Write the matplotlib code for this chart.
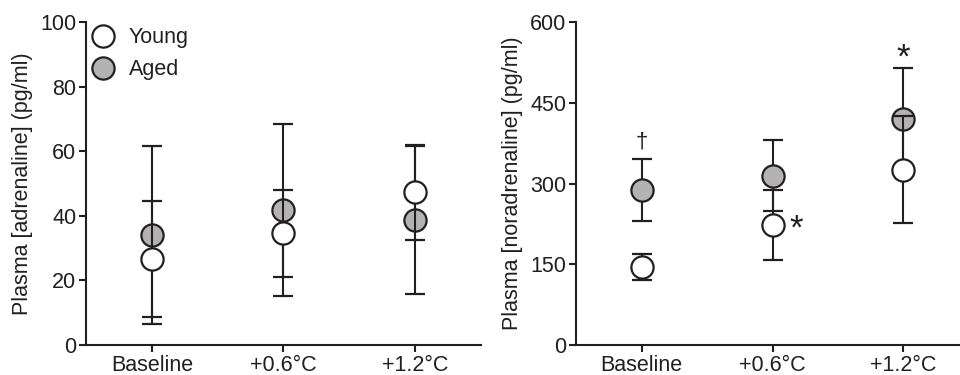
import matplotlib
matplotlib.use("Agg")
import matplotlib.pyplot as plt
from matplotlib.lines import Line2D
import numpy as np

plt.rcParams['font.family'] = ['Liberation Sans', 'DejaVu Sans']

conditions = ['Baseline', '+0.6°C', '+1.2°C']

# adrenaline (pg/ml)
adr_young = [26.7, 34.6, 47.3]
adr_young_err = [18.0, 13.4, 14.7]
adr_aged = [34.0, 41.8, 38.7]
adr_aged_err = [27.5, 26.7, 23.0]

# noradrenaline (pg/ml)
nor_young = [145, 223, 326]
nor_young_err = [24, 65, 100]
nor_aged = [288, 314, 420]
nor_aged_err = [58, 66, 94]

ink = '#231f20'
grey = '#b3b3b3'
fs = 15.5

fig = plt.figure(figsize=(9.6, 3.75), dpi=100)
ax1 = fig.add_axes([86/960, 30/375, 395/960, 323/375])
ax2 = fig.add_axes([576/960, 30/375, 393/960, 323/375])

x = np.arange(len(conditions))


def draw(ax, young, young_err, aged, aged_err):
    ax.errorbar(x, aged, yerr=aged_err, fmt='o', ms=16, mfc=grey, mec=ink,
                mew=1.6, ecolor=ink, elinewidth=1.5, capsize=7.5, capthick=1.5,
                zorder=2)
    ax.errorbar(x, young, yerr=young_err, fmt='o', ms=16, mfc='white', mec=ink,
                mew=1.6, ecolor=ink, elinewidth=1.5, capsize=7.5, capthick=1.5,
                zorder=3)
    ax.set_xlim(-0.5, 2.5)
    ax.set_xticks(x)
    ax.set_xticklabels(conditions)
    for s in ['top', 'right']:
        ax.spines[s].set_visible(False)
    for s in ['left', 'bottom']:
        ax.spines[s].set_linewidth(1.5)
        ax.spines[s].set_color(ink)
    ax.tick_params(direction='out', length=5, width=1.5, colors=ink,
                   labelsize=fs, labelcolor=ink, pad=2)


draw(ax1, adr_young, adr_young_err, adr_aged, adr_aged_err)
ax1.set_ylim(0, 100)
ax1.set_yticks([0, 20, 40, 60, 80, 100])
ax1.set_ylabel('Plasma [adrenaline] (pg/ml)', fontsize=fs, color=ink, labelpad=5)

handles = [
    Line2D([], [], ls='none', marker='o', ms=16, mfc='white', mec=ink, mew=1.6),
    Line2D([], [], ls='none', marker='o', ms=16, mfc=grey, mec=ink, mew=1.6),
]
leg = ax1.legend(handles, ['Young', 'Aged'], loc='upper left',
                 bbox_to_anchor=(-0.025, 1.03), frameon=False, fontsize=fs,
                 handletextpad=0.65, labelspacing=0.5, borderaxespad=0.3,
                 handlelength=1.1)
for t in leg.get_texts():
    t.set_color(ink)

draw(ax2, nor_young, nor_young_err, nor_aged, nor_aged_err)
ax2.set_ylim(0, 600)
ax2.set_yticks([0, 150, 300, 450, 600])
ax2.set_ylabel('Plasma [noradrenaline] (pg/ml)', fontsize=fs, color=ink, labelpad=5)

ax2.text(0, 377, '†', ha='center', va='center', fontsize=16, color=ink)
ax2.text(1.18, 216, '*', ha='center', va='center', fontsize=25, color=ink)
ax2.text(2, 533, '*', ha='center', va='center', fontsize=25, color=ink)

fig.savefig('out.png', dpi=100)
